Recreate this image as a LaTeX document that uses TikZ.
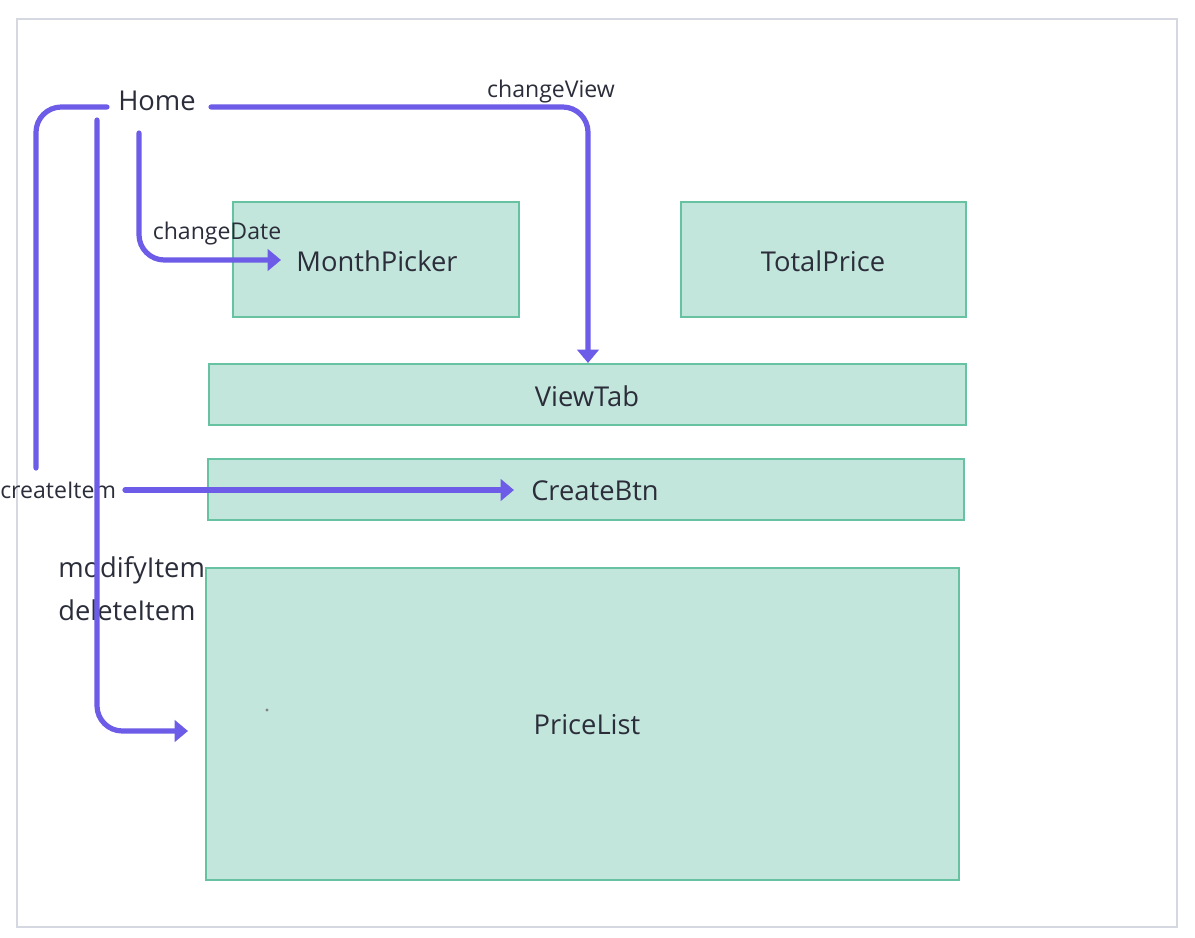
\documentclass[tikz,border=0pt]{standalone}
\usepackage{fontspec}
\setmainfont{Open Sans}
\usetikzlibrary{arrows.meta}
\definecolor{arrowc}{HTML}{6C5CE7}
\definecolor{boxfill}{HTML}{C3E6DC}
\definecolor{boxline}{HTML}{66C2A0}
\definecolor{framec}{HTML}{D5D8E0}
\definecolor{txt}{HTML}{2B2E3A}
\tikzset{
  comp/.style={draw=boxline, fill=boxfill, line width=2.2pt, inner sep=0pt, text=txt,
    font=\fontsize{20.5}{24}\selectfont},
  flow/.style={draw=arrowc, line width=3.9pt, rounded corners=19pt, line cap=round},
  flowtip/.style={flow, -{Triangle[length=10pt,width=16pt]}},
  biglabel/.style={text=txt, font=\fontsize{20.5}{24}\selectfont, inner sep=0pt},
  smalllabel/.style={text=txt, font=\fontsize{17.3}{20}\selectfont, inner sep=0pt},
}
\begin{document}
\begin{tikzpicture}[x=0.75pt,y=-0.75pt]
\useasboundingbox (0,0) rectangle (1195,938);
\draw[framec, line width=1.8pt] (17,19) rectangle (1177,927);

% components
\node[comp, minimum width=286*0.75pt, minimum height=115*0.75pt] (mp) at (376,259.5) {};
\node[comp, minimum width=285*0.75pt, minimum height=115*0.75pt] (tp) at (823.5,259.5) {};
\node[comp, minimum width=757*0.75pt, minimum height=61*0.75pt] (vt) at (587.5,394.5) {};
\node[comp, minimum width=756*0.75pt, minimum height=61*0.75pt] (cb) at (586,489.5) {};
\node[comp, minimum width=753*0.75pt, minimum height=312*0.75pt] (pl) at (582.5,724) {};
\node[biglabel] (mpt) at (377,261) {MonthPicker};
\node[biglabel] (tpt) at (823,261) {TotalPrice};
\node[biglabel] (vtt) at (587,396) {ViewTab};
\node[biglabel] (cbt) at (595,491) {CreateBtn};
\node[biglabel] (plt) at (587,725) {PriceList};
\fill[gray] (267,710) circle (1.2pt);

% labels
\node[biglabel] (home) at (157,101) {Home};
\node[smalllabel] (cv) at (551,92) {changeView};
\node[smalllabel] (cd) at (217,234) {changeDate};
\node[smalllabel, anchor=west] (ci) at (0,490) {createItem};
\node[biglabel, anchor=west] (mi) at (58,570) {modifyItem};
\node[biglabel, anchor=west] (di) at (58,610) {deleteItem};

% connector end points
\coordinate (a1s) at (107,107);
\coordinate (a1e) at (36,468);
\coordinate (a2s) at (97,120);
\coordinate (a2e) at (188,731);
\coordinate (a3s) at (139,133);
\coordinate (a3e) at (281,260);
\coordinate (a4s) at (211,107);
\coordinate (a4e) at (588,363);
\coordinate (a5s) at (125,490);
\coordinate (a5e) at (514,490);

\draw[flow] (a1s) -| (a1e);
\draw[flowtip] (a2s) |- (a2e);
\draw[flowtip] (a3s) |- (a3e);
\draw[flowtip] (a4s) -| (a4e);
\draw[flowtip] (a5s) -- (a5e);
\end{tikzpicture}
\end{document}
